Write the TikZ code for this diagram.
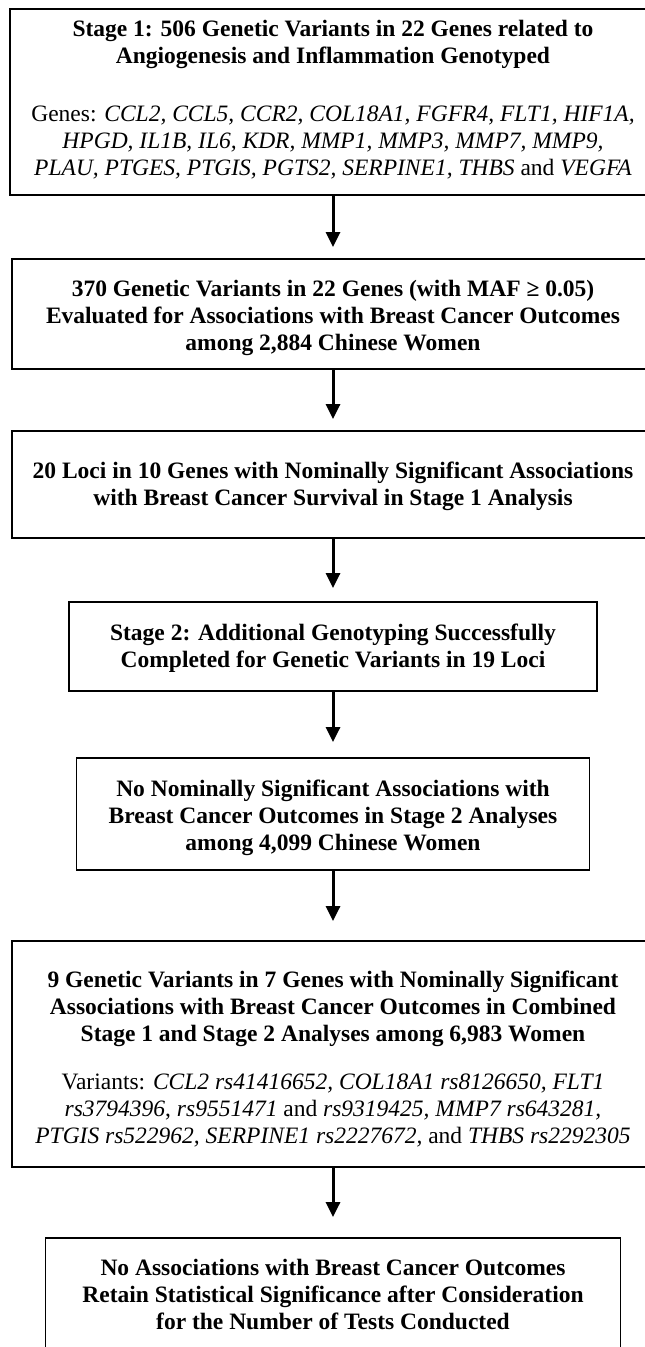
\documentclass[tikz,border=0pt]{standalone}
\usepackage{fontspec}
\setmainfont{Liberation Serif}
\usetikzlibrary{arrows.meta}
% struts to nudge a box's text up or down
\newcommand{\linesink}[1]{\rule{0pt}{#1}}
\newcommand{\linelift}[1]{\rule[-#1]{0pt}{#1}}

\begin{document}
\begin{tikzpicture}[x=1pt, y=-1pt,
		stagebox/.style={draw, line width=1.8pt, align=center, inner sep=0pt, font=\fontsize{23.5}{27}\selectfont},
		flowarrow/.style={-{Triangle[width=14pt,length=15pt]}, line width=3pt}]
	\useasboundingbox (0,0) rectangle (645,1347);
	\clip (0,0) rectangle (645,1347);
	% stage 1
	\node [stagebox, minimum width=646pt, minimum height=186pt] (s1) at (333,102) {\textbf{Stage 1: 506 Genetic Variants in 22 Genes related to}\\
		\textbf{Angiogenesis and Inflammation Genotyped}\\[31pt]
		Genes: \textit{CCL2, CCL5, CCR2, COL18A1, FGFR4, FLT1, HIF1A,}\\
		\textit{HPGD, IL1B, IL6, KDR, MMP1, MMP3, MMP7, MMP9,}\\
		\textit{PLAU, PTGES, PTGIS, PGTS2, SERPINE1, THBS} and \textit{VEGFA}\linelift{9pt}};
	\node [stagebox, minimum width=642pt, minimum height=110pt] (s2) at (333,314) {\linesink{24.5pt}\textbf{370 Genetic Variants in 22 Genes (with MAF ≥ 0.05)}\\
		\textbf{Evaluated for Associations with Breast Cancer Outcomes}\\
		\textbf{among 2,884 Chinese Women}};
	\node [stagebox, minimum width=642pt, minimum height=107pt] (s3) at (333,484.5) {\linesink{21pt}\textbf{20 Loci in 10 Genes with Nominally Significant Associations}\\
		\textbf{with Breast Cancer Survival in Stage 1 Analysis}};
	% stage 2
	\node [stagebox, minimum width=528pt, minimum height=89pt] (s4) at (333,646.5) {\linesink{19pt}\textbf{Stage 2: Additional Genotyping Successfully}\\
		\textbf{Completed for Genetic Variants in 19 Loci}};
	\node [stagebox, minimum width=513pt, minimum height=112pt] (s5) at (333,814) {\linesink{24pt}\textbf{No Nominally Significant Associations with}\\
		\textbf{Breast Cancer Outcomes in Stage 2 Analyses}\\
		\textbf{among 4,099 Chinese Women}};
	% combined
	\node [stagebox, minimum width=642pt, minimum height=226pt] (s6) at (333,1054) {\linesink{27pt}\textbf{9 Genetic Variants in 7 Genes with Nominally Significant}\\
		\textbf{Associations with Breast Cancer Outcomes in Combined}\\
		\textbf{Stage 1 and Stage 2 Analyses among 6,983 Women}\\[21pt]
		Variants: \textit{CCL2 rs41416652, COL18A1 rs8126650, FLT1}\\
		\textit{rs3794396}, \textit{rs9551471} and \textit{rs9319425, MMP7 rs643281,}\\
		\textit{PTGIS rs522962, SERPINE1 rs2227672,} and \textit{THBS rs2292305}};
	\node [stagebox, minimum width=575pt, minimum height=112pt] (s7) at (333,1294) {\textbf{No Associations with Breast Cancer Outcomes}\\
		\textbf{Retain Statistical Significance after Consideration}\\
		\textbf{for the Number of Tests Conducted}};
	\foreach \a/\b/\g in {s1/s2/11, s2/s3/11, s3/s4/13, s4/s5/15, s5/s6/19, s6/s7/20}
		\draw [flowarrow, shorten >=\g pt] (\a.south) -- (\b.north);
\end{tikzpicture}
\end{document}
